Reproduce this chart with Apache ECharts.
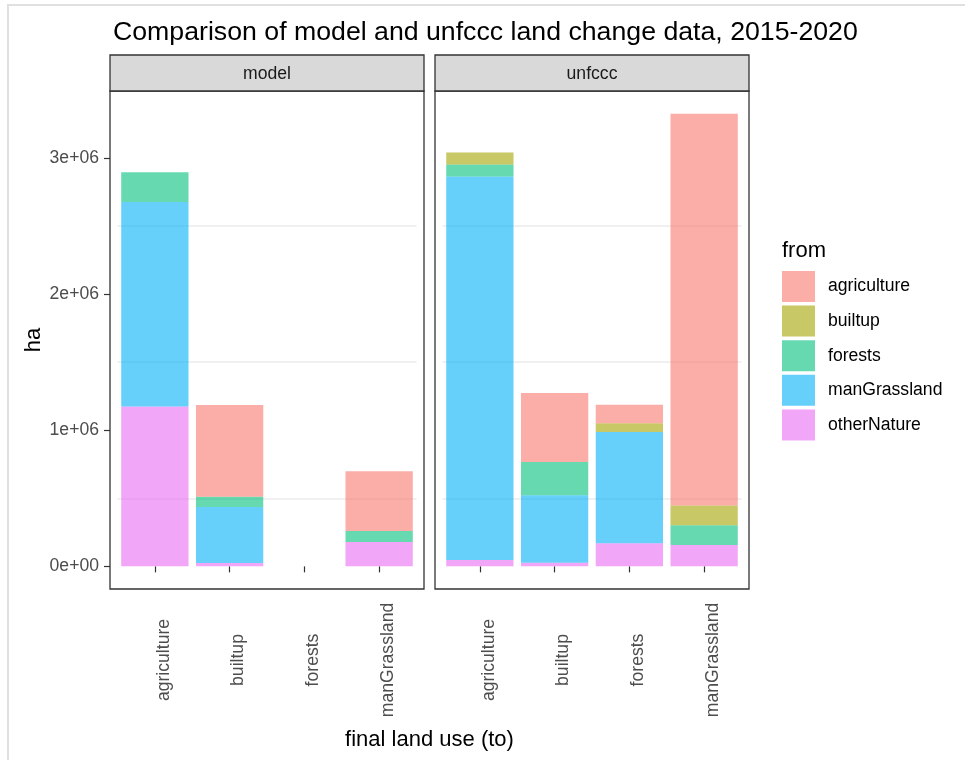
<!DOCTYPE html>
<html>
<head>
<meta charset="utf-8">
<script src="https://cdn.jsdelivr.net/npm/echarts@6/dist/echarts.min.js"></script>
<style>
    html, body { margin: 0; padding: 0; background: #fff; }
    #chart { width: 965px; height: 760px; }
</style>
</head>
<body>
<div id="chart"></div>
<script>
    // final land use (to)
    var categories = ['agriculture', 'builtup', 'forests', 'manGrassland'];
    var facets = ['model', 'unfccc'];
    // land use changed from; stacking order bottom -> top
    var fromTypes = ['otherNature', 'manGrassland', 'forests', 'builtup', 'agriculture'];
    var legendOrder = ['agriculture', 'builtup', 'forests', 'manGrassland', 'otherNature'];

    // ha, per facet, per "from" type, by category
    var modelData = {
        otherNature:  [1173000,   24000, null, 179000],
        manGrassland: [1503000,  412000, null, null],
        forests:      [ 218000,   76000, null,  81000],
        builtup:      [null, null, null, null],
        agriculture:  [null,     672000, null, 439000]
    };
    var unfcccData = {
        otherNature:  [  46000,   26000,  169000,  157000],
        manGrassland: [2816000,  496000,  818000, null],
        forests:      [  88000,  245000, null,  144000],
        builtup:      [  88000, null,     64000,  145000],
        agriculture:  [null,     505000,  135000, 2878000]
    };

    var yTicks = [0, 1000000, 2000000, 3000000];
    var yGridLines = [500000, 1500000, 2500000];

    var colors = {
        agriculture: 'rgba(248,118,109,0.6)',
        builtup: 'rgba(163,165,0,0.6)',
        forests: 'rgba(0,191,125,0.6)',
        manGrassland: 'rgba(0,176,246,0.6)',
        otherNature: 'rgba(231,107,243,0.6)'
    };

    var font = 'Liberation Sans, Arial, sans-serif';
    var panelTop = 91, panelBottom = 589;
    var panelLefts = [110, 435];
    var panelWidth = 314;
    var unit = panelWidth / 4.2;            // ggplot discrete expansion 0.6 each side
    var gridInset = (panelWidth - 4 * unit) / 2;

    var chart = echarts.init(document.getElementById('chart'));

    var grids = [], xAxes = [], yAxes = [], series = [], graphics = [];

    facets.forEach(function (facet, i) {
        var data = i === 0 ? modelData : unfcccData;
        grids.push({
            left: panelLefts[i] + gridInset,
            width: 4 * unit,
            top: panelTop,
            height: panelBottom - panelTop
        });
        xAxes.push({
            type: 'category',
            gridIndex: i,
            data: categories,
            axisLine: { show: false },
            axisTick: { show: true, alignWithLabel: true, length: 6, lineStyle: { color: '#333', width: 1.2 } },
            axisLabel: {
                rotate: 90,
                align: 'center',
                verticalAlign: 'top',
                margin: 71,
                color: '#4d4d4d',
                fontSize: 17.6,
                fontFamily: font
            },
            splitLine: { show: false }
        });
        yAxes.push({
            type: 'value',
            gridIndex: i,
            min: -166200,
            max: 3490200,
            offset: gridInset,
            axisLine: { show: false },
            axisTick: { show: i === 0, customValues: yTicks, length: 6, lineStyle: { color: '#333', width: 1.2 } },
            axisLabel: {
                show: i === 0,
                customValues: yTicks,
                margin: 11,
                color: '#4d4d4d',
                fontSize: 17.6,
                fontFamily: font,
                formatter: function (v) {
                    return v === 0 ? '0e+00' : (v / 1000000) + 'e+06';
                }
            },
            splitLine: { show: false },
            name: i === 0 ? 'ha' : '',
            nameLocation: 'middle',
            nameRotate: 90,
            nameGap: 65,
            nameTextStyle: { color: '#000', fontSize: 22, fontFamily: font }
        });

        // light grid lines behind the bars
        series.push({
            name: 'grid' + i,
            type: 'line',
            xAxisIndex: i,
            yAxisIndex: i,
            data: [],
            z: 0,
            markLine: {
                z: 0,
                silent: true,
                symbol: 'none',
                label: { show: false },
                animation: false,
                lineStyle: { color: '#ebebeb', width: 1.5, type: 'solid' },
                data: yGridLines.map(function (v) { return { yAxis: v }; })
            }
        });

        fromTypes.forEach(function (f) {
            series.push({
                name: f,
                type: 'bar',
                stack: facet,
                xAxisIndex: i,
                yAxisIndex: i,
                barWidth: unit * 0.9,
                data: data[f],
                itemStyle: { color: colors[f] },
                z: 2
            });
        });

        // panel border
        graphics.push({
            type: 'rect',
            shape: { x: panelLefts[i], y: panelTop, width: panelWidth, height: panelBottom - panelTop },
            style: { fill: 'none', stroke: '#333', lineWidth: 1.3 },
            z: 10
        });
        // facet strip
        graphics.push({
            type: 'rect',
            shape: { x: panelLefts[i], y: 55, width: panelWidth, height: 36 },
            style: { fill: '#d9d9d9', stroke: '#333', lineWidth: 1.3 },
            z: 10
        });
        graphics.push({
            type: 'text',
            x: panelLefts[i] + panelWidth / 2,
            y: 74,
            style: {
                text: facet,
                fill: '#1a1a1a',
                font: '17.6px ' + font,
                textAlign: 'center',
                textVerticalAlign: 'middle'
            },
            z: 11
        });
    });

    // outer light frame
    graphics.push({ type: 'line', shape: { x1: 7, y1: 5, x2: 965, y2: 5 }, style: { stroke: '#e0e0e0', lineWidth: 2 } });
    graphics.push({ type: 'line', shape: { x1: 8, y1: 5, x2: 8, y2: 760 }, style: { stroke: '#e0e0e0', lineWidth: 2 } });

    graphics.push({
        type: 'text',
        x: 429.5,
        y: 740,
        style: {
            text: 'final land use (to)',
            fill: '#000',
            font: '22px ' + font,
            textAlign: 'center',
            textVerticalAlign: 'middle'
        }
    });
    graphics.push({
        type: 'text',
        x: 782,
        y: 251,
        style: {
            text: 'from',
            fill: '#000',
            font: '22px ' + font,
            textAlign: 'left',
            textVerticalAlign: 'middle'
        }
    });

    var option = {
        animation: false,
        title: {
            text: 'Comparison of model and unfccc land change data, 2015-2020',
            left: 108,
            top: 14,
            textStyle: { color: '#000', fontSize: 26.7, fontWeight: 'normal', fontFamily: font }
        },
        legend: {
            data: legendOrder,
            orient: 'vertical',
            left: 782,
            top: 271,
            itemWidth: 33,
            itemHeight: 31,
            itemGap: 3.6,
            icon: 'rect',
            padding: 0,
            textStyle: { color: '#000', fontSize: 17.6, fontFamily: font, padding: [6, 0, 0, 8] }
        },
        grid: grids,
        xAxis: xAxes,
        yAxis: yAxes,
        series: series,
        graphic: graphics
    };

    chart.setOption(option);
</script>
</body>
</html>
